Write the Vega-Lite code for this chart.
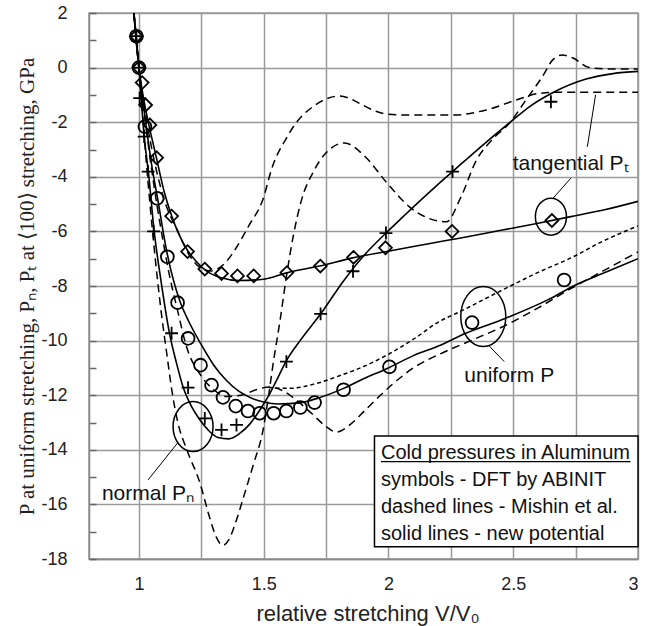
{
  "$schema": "https://vega.github.io/schema/vega-lite/v6.json",
  "width": 549,
  "height": 546,
  "autosize": {"type": "none"},
  "padding": {"left": 89, "top": 13, "right": 15, "bottom": 67},
  "background": "white",
  "config": {
    "view": {"stroke": "#999", "strokeWidth": 1.5},
    "font": "Liberation Sans"
  },
  "datasets": {
    "curves": [
      {"model": "new", "quantity": "tangential", "x": 0.975, "y": 2.5},
      {"model": "new", "quantity": "tangential", "x": 1.0, "y": 0},
      {"model": "new", "quantity": "tangential", "x": 1.02, "y": -1.2},
      {"model": "new", "quantity": "tangential", "x": 1.04, "y": -2.1},
      {"model": "new", "quantity": "tangential", "x": 1.07, "y": -3.3},
      {"model": "new", "quantity": "tangential", "x": 1.1, "y": -4.5},
      {"model": "new", "quantity": "tangential", "x": 1.13, "y": -5.4},
      {"model": "new", "quantity": "tangential", "x": 1.16, "y": -6.1},
      {"model": "new", "quantity": "tangential", "x": 1.195, "y": -6.7},
      {"model": "new", "quantity": "tangential", "x": 1.23, "y": -7.1},
      {"model": "new", "quantity": "tangential", "x": 1.27, "y": -7.45},
      {"model": "new", "quantity": "tangential", "x": 1.33, "y": -7.7},
      {"model": "new", "quantity": "tangential", "x": 1.4, "y": -7.8},
      {"model": "new", "quantity": "tangential", "x": 1.5, "y": -7.75},
      {"model": "new", "quantity": "tangential", "x": 1.592, "y": -7.52},
      {"model": "new", "quantity": "tangential", "x": 1.724, "y": -7.27},
      {"model": "new", "quantity": "tangential", "x": 1.856, "y": -6.97},
      {"model": "new", "quantity": "tangential", "x": 2.004, "y": -6.72},
      {"model": "new", "quantity": "tangential", "x": 2.1, "y": -6.55},
      {"model": "new", "quantity": "tangential", "x": 2.204, "y": -6.38},
      {"model": "new", "quantity": "tangential", "x": 2.284, "y": -6.25},
      {"model": "new", "quantity": "tangential", "x": 2.456, "y": -5.95},
      {"model": "new", "quantity": "tangential", "x": 2.6, "y": -5.7},
      {"model": "new", "quantity": "tangential", "x": 2.736, "y": -5.45},
      {"model": "new", "quantity": "tangential", "x": 2.87, "y": -5.2},
      {"model": "new", "quantity": "tangential", "x": 3.0, "y": -4.9},

      {"model": "new", "quantity": "normal", "x": 0.975, "y": 2.5},
      {"model": "new", "quantity": "normal", "x": 1.0, "y": 0},
      {"model": "new", "quantity": "normal", "x": 1.02, "y": -2.4},
      {"model": "new", "quantity": "normal", "x": 1.04, "y": -4.0},
      {"model": "new", "quantity": "normal", "x": 1.06, "y": -5.9},
      {"model": "new", "quantity": "normal", "x": 1.09, "y": -7.9},
      {"model": "new", "quantity": "normal", "x": 1.124, "y": -9.8},
      {"model": "new", "quantity": "normal", "x": 1.15, "y": -10.8},
      {"model": "new", "quantity": "normal", "x": 1.177, "y": -11.7},
      {"model": "new", "quantity": "normal", "x": 1.21, "y": -12.4},
      {"model": "new", "quantity": "normal", "x": 1.244, "y": -12.9},
      {"model": "new", "quantity": "normal", "x": 1.28, "y": -13.3},
      {"model": "new", "quantity": "normal", "x": 1.317, "y": -13.55},
      {"model": "new", "quantity": "normal", "x": 1.36, "y": -13.6},
      {"model": "new", "quantity": "normal", "x": 1.404, "y": -13.4},
      {"model": "new", "quantity": "normal", "x": 1.445, "y": -13.05},
      {"model": "new", "quantity": "normal", "x": 1.484, "y": -12.55},
      {"model": "new", "quantity": "normal", "x": 1.524, "y": -11.95},
      {"model": "new", "quantity": "normal", "x": 1.56, "y": -11.3},
      {"model": "new", "quantity": "normal", "x": 1.59, "y": -10.75},
      {"model": "new", "quantity": "normal", "x": 1.65, "y": -9.95},
      {"model": "new", "quantity": "normal", "x": 1.73, "y": -9.0},
      {"model": "new", "quantity": "normal", "x": 1.817, "y": -7.85},
      {"model": "new", "quantity": "normal", "x": 1.9, "y": -6.9},
      {"model": "new", "quantity": "normal", "x": 1.991, "y": -6.05},
      {"model": "new", "quantity": "normal", "x": 2.06, "y": -5.45},
      {"model": "new", "quantity": "normal", "x": 2.124, "y": -4.9},
      {"model": "new", "quantity": "normal", "x": 2.19, "y": -4.35},
      {"model": "new", "quantity": "normal", "x": 2.257, "y": -3.81},
      {"model": "new", "quantity": "normal", "x": 2.37, "y": -2.9},
      {"model": "new", "quantity": "normal", "x": 2.488, "y": -2.0},
      {"model": "new", "quantity": "normal", "x": 2.57, "y": -1.4},
      {"model": "new", "quantity": "normal", "x": 2.656, "y": -0.93},
      {"model": "new", "quantity": "normal", "x": 2.792, "y": -0.42},
      {"model": "new", "quantity": "normal", "x": 2.9, "y": -0.22},
      {"model": "new", "quantity": "normal", "x": 3.0, "y": -0.14},

      {"model": "new", "quantity": "uniform", "x": 0.975, "y": 2.5},
      {"model": "new", "quantity": "uniform", "x": 1.0, "y": 0},
      {"model": "new", "quantity": "uniform", "x": 1.03, "y": -2.2},
      {"model": "new", "quantity": "uniform", "x": 1.05, "y": -3.5},
      {"model": "new", "quantity": "uniform", "x": 1.075, "y": -4.8},
      {"model": "new", "quantity": "uniform", "x": 1.113, "y": -6.8},
      {"model": "new", "quantity": "uniform", "x": 1.164, "y": -8.55},
      {"model": "new", "quantity": "uniform", "x": 1.2, "y": -9.3},
      {"model": "new", "quantity": "uniform", "x": 1.25, "y": -10.15},
      {"model": "new", "quantity": "uniform", "x": 1.3, "y": -10.9},
      {"model": "new", "quantity": "uniform", "x": 1.35, "y": -11.45},
      {"model": "new", "quantity": "uniform", "x": 1.4, "y": -11.85},
      {"model": "new", "quantity": "uniform", "x": 1.45, "y": -12.1},
      {"model": "new", "quantity": "uniform", "x": 1.5, "y": -12.25},
      {"model": "new", "quantity": "uniform", "x": 1.56, "y": -12.32},
      {"model": "new", "quantity": "uniform", "x": 1.644, "y": -12.28},
      {"model": "new", "quantity": "uniform", "x": 1.72, "y": -12.1},
      {"model": "new", "quantity": "uniform", "x": 1.82, "y": -11.75},
      {"model": "new", "quantity": "uniform", "x": 1.9, "y": -11.4},
      {"model": "new", "quantity": "uniform", "x": 2.0, "y": -11.0},
      {"model": "new", "quantity": "uniform", "x": 2.1, "y": -10.55},
      {"model": "new", "quantity": "uniform", "x": 2.2, "y": -10.2},
      {"model": "new", "quantity": "uniform", "x": 2.31, "y": -9.73},
      {"model": "new", "quantity": "uniform", "x": 2.47, "y": -9.18},
      {"model": "new", "quantity": "uniform", "x": 2.64, "y": -8.5},
      {"model": "new", "quantity": "uniform", "x": 2.75, "y": -7.96},
      {"model": "new", "quantity": "uniform", "x": 2.87, "y": -7.5},
      {"model": "new", "quantity": "uniform", "x": 3.0, "y": -7.0},

      {"model": "Mishin", "quantity": "tangential", "x": 0.975, "y": 2.5},
      {"model": "Mishin", "quantity": "tangential", "x": 1.0, "y": 0},
      {"model": "Mishin", "quantity": "tangential", "x": 1.03, "y": -1.9},
      {"model": "Mishin", "quantity": "tangential", "x": 1.05, "y": -2.9},
      {"model": "Mishin", "quantity": "tangential", "x": 1.1, "y": -4.8},
      {"model": "Mishin", "quantity": "tangential", "x": 1.156, "y": -6.0},
      {"model": "Mishin", "quantity": "tangential", "x": 1.204, "y": -6.9},
      {"model": "Mishin", "quantity": "tangential", "x": 1.25, "y": -7.35},
      {"model": "Mishin", "quantity": "tangential", "x": 1.29, "y": -7.45},
      {"model": "Mishin", "quantity": "tangential", "x": 1.32, "y": -7.35},
      {"model": "Mishin", "quantity": "tangential", "x": 1.351, "y": -7.1},
      {"model": "Mishin", "quantity": "tangential", "x": 1.39, "y": -6.6},
      {"model": "Mishin", "quantity": "tangential", "x": 1.44, "y": -5.8},
      {"model": "Mishin", "quantity": "tangential", "x": 1.496, "y": -4.85},
      {"model": "Mishin", "quantity": "tangential", "x": 1.536, "y": -3.6},
      {"model": "Mishin", "quantity": "tangential", "x": 1.59, "y": -2.6},
      {"model": "Mishin", "quantity": "tangential", "x": 1.632, "y": -2.0},
      {"model": "Mishin", "quantity": "tangential", "x": 1.696, "y": -1.44},
      {"model": "Mishin", "quantity": "tangential", "x": 1.75, "y": -1.15},
      {"model": "Mishin", "quantity": "tangential", "x": 1.804, "y": -1.04},
      {"model": "Mishin", "quantity": "tangential", "x": 1.85, "y": -1.15},
      {"model": "Mishin", "quantity": "tangential", "x": 1.896, "y": -1.37},
      {"model": "Mishin", "quantity": "tangential", "x": 1.95, "y": -1.6},
      {"model": "Mishin", "quantity": "tangential", "x": 1.992, "y": -1.7},
      {"model": "Mishin", "quantity": "tangential", "x": 2.1, "y": -1.74},
      {"model": "Mishin", "quantity": "tangential", "x": 2.256, "y": -1.74},
      {"model": "Mishin", "quantity": "tangential", "x": 2.392, "y": -1.55},
      {"model": "Mishin", "quantity": "tangential", "x": 2.524, "y": -1.15},
      {"model": "Mishin", "quantity": "tangential", "x": 2.6, "y": -0.95},
      {"model": "Mishin", "quantity": "tangential", "x": 2.7, "y": -0.9},
      {"model": "Mishin", "quantity": "tangential", "x": 3.0, "y": -0.9},

      {"model": "Mishin", "quantity": "normal", "x": 0.975, "y": 2.5},
      {"model": "Mishin", "quantity": "normal", "x": 1.0, "y": 0},
      {"model": "Mishin", "quantity": "normal", "x": 1.03, "y": -3.5},
      {"model": "Mishin", "quantity": "normal", "x": 1.06, "y": -6.5},
      {"model": "Mishin", "quantity": "normal", "x": 1.09, "y": -9.0},
      {"model": "Mishin", "quantity": "normal", "x": 1.112, "y": -10.5},
      {"model": "Mishin", "quantity": "normal", "x": 1.135, "y": -12.0},
      {"model": "Mishin", "quantity": "normal", "x": 1.156, "y": -13.0},
      {"model": "Mishin", "quantity": "normal", "x": 1.192, "y": -14.0},
      {"model": "Mishin", "quantity": "normal", "x": 1.244, "y": -15.2},
      {"model": "Mishin", "quantity": "normal", "x": 1.284, "y": -16.5},
      {"model": "Mishin", "quantity": "normal", "x": 1.31, "y": -17.2},
      {"model": "Mishin", "quantity": "normal", "x": 1.336, "y": -17.5},
      {"model": "Mishin", "quantity": "normal", "x": 1.36, "y": -17.3},
      {"model": "Mishin", "quantity": "normal", "x": 1.39, "y": -16.6},
      {"model": "Mishin", "quantity": "normal", "x": 1.417, "y": -15.8},
      {"model": "Mishin", "quantity": "normal", "x": 1.46, "y": -14.5},
      {"model": "Mishin", "quantity": "normal", "x": 1.497, "y": -13.3},
      {"model": "Mishin", "quantity": "normal", "x": 1.52, "y": -12.0},
      {"model": "Mishin", "quantity": "normal", "x": 1.537, "y": -10.9},
      {"model": "Mishin", "quantity": "normal", "x": 1.565, "y": -9.3},
      {"model": "Mishin", "quantity": "normal", "x": 1.592, "y": -7.6},
      {"model": "Mishin", "quantity": "normal", "x": 1.62, "y": -6.1},
      {"model": "Mishin", "quantity": "normal", "x": 1.65, "y": -4.9},
      {"model": "Mishin", "quantity": "normal", "x": 1.7, "y": -3.8},
      {"model": "Mishin", "quantity": "normal", "x": 1.752, "y": -3.1},
      {"model": "Mishin", "quantity": "normal", "x": 1.824, "y": -2.76},
      {"model": "Mishin", "quantity": "normal", "x": 1.9, "y": -3.2},
      {"model": "Mishin", "quantity": "normal", "x": 1.992, "y": -4.2},
      {"model": "Mishin", "quantity": "normal", "x": 2.084, "y": -5.1},
      {"model": "Mishin", "quantity": "normal", "x": 2.17, "y": -5.55},
      {"model": "Mishin", "quantity": "normal", "x": 2.232, "y": -5.65},
      {"model": "Mishin", "quantity": "normal", "x": 2.29, "y": -4.75},
      {"model": "Mishin", "quantity": "normal", "x": 2.352, "y": -3.4},
      {"model": "Mishin", "quantity": "normal", "x": 2.42, "y": -2.6},
      {"model": "Mishin", "quantity": "normal", "x": 2.488, "y": -2.0},
      {"model": "Mishin", "quantity": "normal", "x": 2.55, "y": -1.2},
      {"model": "Mishin", "quantity": "normal", "x": 2.616, "y": -0.34},
      {"model": "Mishin", "quantity": "normal", "x": 2.66, "y": 0.3},
      {"model": "Mishin", "quantity": "normal", "x": 2.696, "y": 0.46},
      {"model": "Mishin", "quantity": "normal", "x": 2.74, "y": 0.35},
      {"model": "Mishin", "quantity": "normal", "x": 2.804, "y": 0.0},
      {"model": "Mishin", "quantity": "normal", "x": 2.9, "y": -0.05},
      {"model": "Mishin", "quantity": "normal", "x": 3.0, "y": -0.05},

      {"model": "Mishin", "quantity": "uniform", "x": 0.975, "y": 2.5},
      {"model": "Mishin", "quantity": "uniform", "x": 1.0, "y": 0},
      {"model": "Mishin", "quantity": "uniform", "x": 1.03, "y": -2.3},
      {"model": "Mishin", "quantity": "uniform", "x": 1.06, "y": -4.3},
      {"model": "Mishin", "quantity": "uniform", "x": 1.09, "y": -6.0},
      {"model": "Mishin", "quantity": "uniform", "x": 1.12, "y": -7.5},
      {"model": "Mishin", "quantity": "uniform", "x": 1.155, "y": -8.9},
      {"model": "Mishin", "quantity": "uniform", "x": 1.19, "y": -10.2},
      {"model": "Mishin", "quantity": "uniform", "x": 1.25, "y": -11.3},
      {"model": "Mishin", "quantity": "uniform", "x": 1.3, "y": -11.8},
      {"model": "Mishin", "quantity": "uniform", "x": 1.35, "y": -12.05},
      {"model": "Mishin", "quantity": "uniform", "x": 1.41, "y": -12.0},
      {"model": "Mishin", "quantity": "uniform", "x": 1.47, "y": -11.8},
      {"model": "Mishin", "quantity": "uniform", "x": 1.524, "y": -11.7},
      {"model": "Mishin", "quantity": "uniform", "x": 1.58, "y": -11.85},
      {"model": "Mishin", "quantity": "uniform", "x": 1.64, "y": -12.25},
      {"model": "Mishin", "quantity": "uniform", "x": 1.696, "y": -12.7},
      {"model": "Mishin", "quantity": "uniform", "x": 1.75, "y": -13.15},
      {"model": "Mishin", "quantity": "uniform", "x": 1.792, "y": -13.35},
      {"model": "Mishin", "quantity": "uniform", "x": 1.85, "y": -13.05},
      {"model": "Mishin", "quantity": "uniform", "x": 1.912, "y": -12.5},
      {"model": "Mishin", "quantity": "uniform", "x": 2.016, "y": -11.6},
      {"model": "Mishin", "quantity": "uniform", "x": 2.1, "y": -11.0},
      {"model": "Mishin", "quantity": "uniform", "x": 2.204, "y": -10.5},
      {"model": "Mishin", "quantity": "uniform", "x": 2.33, "y": -10.0},
      {"model": "Mishin", "quantity": "uniform", "x": 2.456, "y": -9.5},
      {"model": "Mishin", "quantity": "uniform", "x": 2.6, "y": -8.8},
      {"model": "Mishin", "quantity": "uniform", "x": 2.736, "y": -8.07},
      {"model": "Mishin", "quantity": "uniform", "x": 2.87, "y": -7.4},
      {"model": "Mishin", "quantity": "uniform", "x": 3.0, "y": -6.75},

      {"model": "other", "quantity": "uniform", "x": 1.52, "y": -11.72},
      {"model": "other", "quantity": "uniform", "x": 1.6, "y": -11.75},
      {"model": "other", "quantity": "uniform", "x": 1.7, "y": -11.6},
      {"model": "other", "quantity": "uniform", "x": 1.8, "y": -11.3},
      {"model": "other", "quantity": "uniform", "x": 1.9, "y": -10.95},
      {"model": "other", "quantity": "uniform", "x": 2.0, "y": -10.5},
      {"model": "other", "quantity": "uniform", "x": 2.1, "y": -9.95},
      {"model": "other", "quantity": "uniform", "x": 2.204, "y": -9.3},
      {"model": "other", "quantity": "uniform", "x": 2.284, "y": -8.95},
      {"model": "other", "quantity": "uniform", "x": 2.456, "y": -8.15},
      {"model": "other", "quantity": "uniform", "x": 2.6, "y": -7.5},
      {"model": "other", "quantity": "uniform", "x": 2.736, "y": -6.95},
      {"model": "other", "quantity": "uniform", "x": 2.85, "y": -6.4},
      {"model": "other", "quantity": "uniform", "x": 3.0, "y": -5.8}
    ],
    "dft": [
      {"quantity": "tangential", "x": 0.99, "y": 1.15},
      {"quantity": "tangential", "x": 1.0, "y": 0},
      {"quantity": "tangential", "x": 1.013, "y": -0.55},
      {"quantity": "tangential", "x": 1.027, "y": -1.37},
      {"quantity": "tangential", "x": 1.044, "y": -2.1},
      {"quantity": "tangential", "x": 1.071, "y": -3.3},
      {"quantity": "tangential", "x": 1.131, "y": -5.44},
      {"quantity": "tangential", "x": 1.195, "y": -6.74},
      {"quantity": "tangential", "x": 1.264, "y": -7.38},
      {"quantity": "tangential", "x": 1.331, "y": -7.54},
      {"quantity": "tangential", "x": 1.395, "y": -7.63},
      {"quantity": "tangential", "x": 1.46, "y": -7.63},
      {"quantity": "tangential", "x": 1.593, "y": -7.51},
      {"quantity": "tangential", "x": 1.727, "y": -7.27},
      {"quantity": "tangential", "x": 1.86, "y": -6.95},
      {"quantity": "tangential", "x": 1.988, "y": -6.6},
      {"quantity": "tangential", "x": 2.255, "y": -6.0},
      {"quantity": "tangential", "x": 2.655, "y": -5.6},
      {"quantity": "uniform", "x": 0.99, "y": 1.15},
      {"quantity": "uniform", "x": 1.0, "y": 0},
      {"quantity": "uniform", "x": 1.024, "y": -2.16},
      {"quantity": "uniform", "x": 1.073, "y": -4.79},
      {"quantity": "uniform", "x": 1.114, "y": -6.93},
      {"quantity": "uniform", "x": 1.155, "y": -8.61},
      {"quantity": "uniform", "x": 1.197, "y": -9.92},
      {"quantity": "uniform", "x": 1.247, "y": -10.9},
      {"quantity": "uniform", "x": 1.291, "y": -11.63},
      {"quantity": "uniform", "x": 1.337, "y": -12.08},
      {"quantity": "uniform", "x": 1.388, "y": -12.4},
      {"quantity": "uniform", "x": 1.437, "y": -12.58},
      {"quantity": "uniform", "x": 1.484, "y": -12.66},
      {"quantity": "uniform", "x": 1.54, "y": -12.66},
      {"quantity": "uniform", "x": 1.591, "y": -12.58},
      {"quantity": "uniform", "x": 1.647, "y": -12.45},
      {"quantity": "uniform", "x": 1.704, "y": -12.27},
      {"quantity": "uniform", "x": 1.82, "y": -11.8},
      {"quantity": "uniform", "x": 2.004, "y": -10.96},
      {"quantity": "uniform", "x": 2.335, "y": -9.34},
      {"quantity": "uniform", "x": 2.704, "y": -7.78},
      {"quantity": "normal", "x": 0.99, "y": 1.15},
      {"quantity": "normal", "x": 1.0, "y": 0},
      {"quantity": "normal", "x": 1.003, "y": -1.12},
      {"quantity": "normal", "x": 1.021, "y": -2.53},
      {"quantity": "normal", "x": 1.037, "y": -3.81},
      {"quantity": "normal", "x": 1.059, "y": -6.0},
      {"quantity": "normal", "x": 1.131, "y": -9.73},
      {"quantity": "normal", "x": 1.197, "y": -11.72},
      {"quantity": "normal", "x": 1.264, "y": -12.85},
      {"quantity": "normal", "x": 1.331, "y": -13.27},
      {"quantity": "normal", "x": 1.391, "y": -13.09},
      {"quantity": "normal", "x": 1.591, "y": -10.77},
      {"quantity": "normal", "x": 1.728, "y": -9.02},
      {"quantity": "normal", "x": 1.858, "y": -7.46},
      {"quantity": "normal", "x": 1.99, "y": -6.06},
      {"quantity": "normal", "x": 2.257, "y": -3.81},
      {"quantity": "normal", "x": 2.651, "y": -1.25}
    ],
    "leaders": [
      {"x": 2.797, "y": -2.9, "x2": 2.83, "y2": -1.0},
      {"x": 2.731, "y": -4.05, "x2": 2.66, "y2": -4.78},
      {"x": 2.404, "y": -10.2, "x2": 2.464, "y2": -10.77},
      {"x": 1.037, "y": -15.1, "x2": 1.155, "y2": -13.75}
    ],
    "labels": [
      {"x": 2.73, "y": -3.75, "label": "tangential Pₜ"},
      {"x": 2.484, "y": -11.5, "label": "uniform P"},
      {"x": 1.036, "y": -15.84, "label": "normal Pₙ"}
    ],
    "legendText": [
      {"x": 1.97, "y": -14.34, "label": "Cold pressures in Aluminum"},
      {"x": 1.97, "y": -15.31, "label": "symbols - DFT by ABINIT"},
      {"x": 1.97, "y": -16.33, "label": "dashed lines - Mishin et al."},
      {"x": 1.97, "y": -17.3, "label": "solid lines - new potential"}
    ]
  },
  "encoding": {
    "x": {
      "field": "x", "type": "quantitative",
      "scale": {"domain": [0.8, 3], "nice": false, "zero": false},
      "axis": {
        "values": [1, 1.25, 1.5, 1.75, 2, 2.25, 2.5, 2.75, 3],
        "labelExpr": "datum.value % 0.5 == 0 ? '' + datum.value : ''",
        "grid": true, "gridColor": "#9a9a9a", "gridWidth": 1.5,
        "ticks": false,
        "domainColor": "#888", "domainWidth": 1.5,
        "labelFontSize": 18, "labelColor": "#222", "labelPadding": 16, "labelFont": "Liberation Sans",
        "title": "relative stretching V/V₀",
        "titleFont": "Liberation Sans", "titleFontSize": 22, "titleFontWeight": "normal", "titleColor": "#222",
        "titleX": 278.5, "titleY": 61, "titleBaseline": "alphabetic", "titleAlign": "center"
      }
    },
    "y": {
      "field": "y", "type": "quantitative",
      "scale": {"domain": [-18, 2], "nice": false, "zero": false},
      "axis": {
        "values": [-18, -17, -16, -15, -14, -13, -12, -11, -10, -9, -8, -7, -6, -5, -4, -3, -2, -1, 0, 1, 2],
        "labelExpr": "datum.value % 2 == 0 ? '' + datum.value : ''",
        "grid": true, "gridColor": "#9a9a9a", "gridWidth": 1.5,
        "gridOpacity": {"condition": {"test": "datum.value % 2 == 0", "value": 1}, "value": 0},
        "ticks": true, "tickSize": -7, "tickColor": "#666", "tickWidth": 1.5,
        "domainColor": "#888", "domainWidth": 1.5,
        "labelFontSize": 18, "labelColor": "#222", "labelPadding": 29, "labelFont": "Liberation Sans",
        "title": "P at uniform stretching, Pₙ, Pₜ at ⟨100⟩ stretching, GPa",
        "titleFont": "Liberation Serif", "titleFontSize": 21, "titleFontWeight": "normal", "titleColor": "#222",
        "titleAngle": -90, "titleX": -62, "titleY": 273, "titleBaseline": "middle", "titleAlign": "center"
      }
    }
  },
  "layer": [
    {
      "data": {"name": "curves"},
      "transform": [{"filter": "datum.model == 'new'"}],
      "mark": {"type": "line", "color": "black", "strokeWidth": 1.6, "interpolate": "monotone", "clip": true},
      "encoding": {"detail": {"field": "quantity"}}
    },
    {
      "data": {"name": "curves"},
      "transform": [{"filter": "datum.model == 'Mishin'"}],
      "mark": {"type": "line", "color": "black", "strokeWidth": 1.5, "strokeDash": [8, 5], "interpolate": "monotone", "clip": true},
      "encoding": {"detail": {"field": "quantity"}}
    },
    {
      "data": {"name": "curves"},
      "transform": [{"filter": "datum.model == 'other'"}],
      "mark": {"type": "line", "color": "black", "strokeWidth": 1.5, "strokeDash": [4, 3], "interpolate": "monotone", "clip": true},
      "encoding": {"detail": {"field": "quantity"}}
    },
    {
      "data": {"name": "dft"},
      "mark": {"type": "point", "filled": false, "stroke": "black", "strokeWidth": 1.8, "size": 165, "opacity": 1},
      "encoding": {
        "shape": {
          "field": "quantity", "type": "nominal",
          "scale": {"domain": ["tangential", "uniform", "normal"], "range": ["diamond", "circle", "M-1,0L1,0M0,-1L0,1"]},
          "legend": null
        }
      }
    },
    {
      "data": {"values": [{"x": 2.651, "y": -5.46}]},
      "mark": {"type": "point", "filled": false, "stroke": "black", "strokeWidth": 1.5, "opacity": 1, "size": 1369,
               "shape": "M -0.84 0 A 0.84 1 0 1 0 0.84 0 A 0.84 1 0 1 0 -0.84 0 Z"}
    },
    {
      "data": {"values": [{"x": 2.38, "y": -9.12}]},
      "mark": {"type": "point", "filled": false, "stroke": "black", "strokeWidth": 1.5, "opacity": 1, "size": 3600,
               "shape": "M -0.75 0 A 0.75 1 0 1 0 0.75 0 A 0.75 1 0 1 0 -0.75 0 Z"}
    },
    {
      "data": {"values": [{"x": 1.217, "y": -13.15}]},
      "mark": {"type": "point", "filled": false, "stroke": "black", "strokeWidth": 1.5, "opacity": 1, "size": 2500,
               "shape": "M -0.8 0 A 0.8 1 0 1 0 0.8 0 A 0.8 1 0 1 0 -0.8 0 Z"}
    },
    {
      "data": {"name": "leaders"},
      "mark": {"type": "rule", "color": "black", "strokeWidth": 1},
      "encoding": {"x2": {"field": "x2"}, "y2": {"field": "y2"}}
    },
    {
      "data": {"values": [{"x": 1.944, "y": -13.49, "x2": 3.0, "y2": -17.55}]},
      "mark": {"type": "rect", "fill": "white", "stroke": "black", "strokeWidth": 1.5},
      "encoding": {"x2": {"field": "x2"}, "y2": {"field": "y2"}}
    },
    {
      "data": {"values": [{"x": 1.97, "y": -14.43, "x2": 2.97, "y2": -14.43}]},
      "mark": {"type": "rule", "color": "black", "strokeWidth": 1.2},
      "encoding": {"x2": {"field": "x2"}, "y2": {"field": "y2"}}
    },
    {
      "data": {"name": "legendText"},
      "mark": {"type": "text", "align": "left", "baseline": "alphabetic", "fontSize": 20, "font": "Liberation Sans", "color": "#111"},
      "encoding": {"text": {"field": "label"}}
    },
    {
      "data": {"name": "labels"},
      "mark": {"type": "text", "align": "center", "baseline": "alphabetic", "fontSize": 21, "font": "Liberation Sans", "color": "#111"},
      "encoding": {"text": {"field": "label"}}
    }
  ]
}
